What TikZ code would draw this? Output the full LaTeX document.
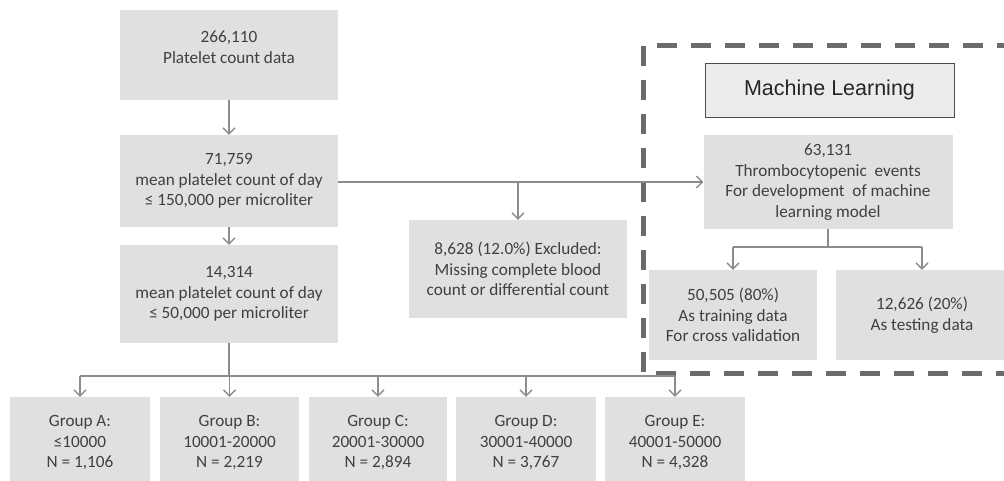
\documentclass[tikz,border=0pt]{standalone}
\usepackage{fontspec}
\setmainfont{Carlito}
\newfontfamily\mlfont{Liberation Sans}
\usetikzlibrary{arrows.meta}
\definecolor{boxgray}{HTML}{E0E0E0}
\definecolor{linegray}{HTML}{8C8C8C}
\definecolor{txtgray}{HTML}{404040}
\definecolor{dashgray}{HTML}{6B6B6B}

\begin{document}
\begin{tikzpicture}[x=1pt, y=-1pt,
  stage/.style={fill=boxgray, text=txtgray, align=center, inner sep=0pt,
                font=\fontsize{17.2}{20.5}\selectfont, minimum height=90pt},
  link/.style={line width=1.3pt, draw=linegray},
  arr/.style={link, -{Straight Barb[length=6pt,width=12pt]}}]
\useasboundingbox (0,0) rectangle (1004,481);
\node[stage, minimum width=218pt] (count) at (229,55) {266,110\\ Platelet count data\\[-5pt]\mbox{}};
\node[stage, minimum width=218pt, minimum height=92pt] (day150) at (229,181) {71,759\\ mean platelet count of day\\ ≤ 150,000 per microliter};
\node[stage, minimum width=218pt, minimum height=98pt] (day50) at (229,294) {14,314\\ mean platelet count of day\\ ≤ 50,000 per microliter};
\node[stage, minimum width=218pt, minimum height=98pt] (excl) at (518,269) {8,628 (12.0\%) Excluded:\\ Missing complete blood\\ count or differential count};
\node[stage, minimum width=249pt, minimum height=94pt] (events) at (828,182) {63,131\\ Thrombocytopenic\ \ events\\ For development\ \ of machine\\ learning model};
\node[draw=black!70, line width=0.8pt, fill=boxgray!60, minimum width=249pt, minimum height=54pt,
      font=\mlfont\fontsize{21.5}{25}\selectfont, text=black!85] (ml) at (829.5,90) {Machine Learning};
\node[stage, minimum width=168pt] (train) at (733,315) {50,505 (80\%)\\ As training data\\ For cross validation};
\node[stage, minimum width=172pt] (test) at (922,315) {12,626 (20\%)\\ As testing data};
\draw[dashgray, line width=5pt, dash pattern=on 20pt off 14pt] (643,46) rectangle (1030,373);
\draw[arr] (count) -- (day150);
\draw[arr] (day150) -- (day50);
\draw[arr] (day150.east |- events.west) -- (events.west);
\draw[arr] (excl.north |- events.west) -- (excl.north);
\coordinate (split) at (828,247);
\draw[link] (events.south) -- (split);
\draw[link] (train.north |- split) -- (test.north |- split);
\draw[arr] (train.north |- split) -- (train.north);
\draw[arr] (test.north |- split) -- (test.north);
\coordinate (bus) at (229,376);
\foreach \grp/\x/\w/\range/\n in {A/80/140/{≤10000}/{1,106}, B/229.5/139/{10001-20000}/{2,219},
    C/378/138/{20001-30000}/{2,894}, D/526/140/{30001-40000}/{3,767}, E/675/140/{40001-50000}/{4,328}}{
  \node[stage, minimum width=\w pt, minimum height=92pt] (grp\grp) at (\x,443) {Group \grp:\\ \range\\ N = \n};
  \draw[arr] (grp\grp.north |- bus) -- (grp\grp.north);
}
\draw[link] (day50.south) -- (day50.south |- bus);
\draw[link] (grpA.north |- bus) -- (grpE.north |- bus);
\end{tikzpicture}
\end{document}
